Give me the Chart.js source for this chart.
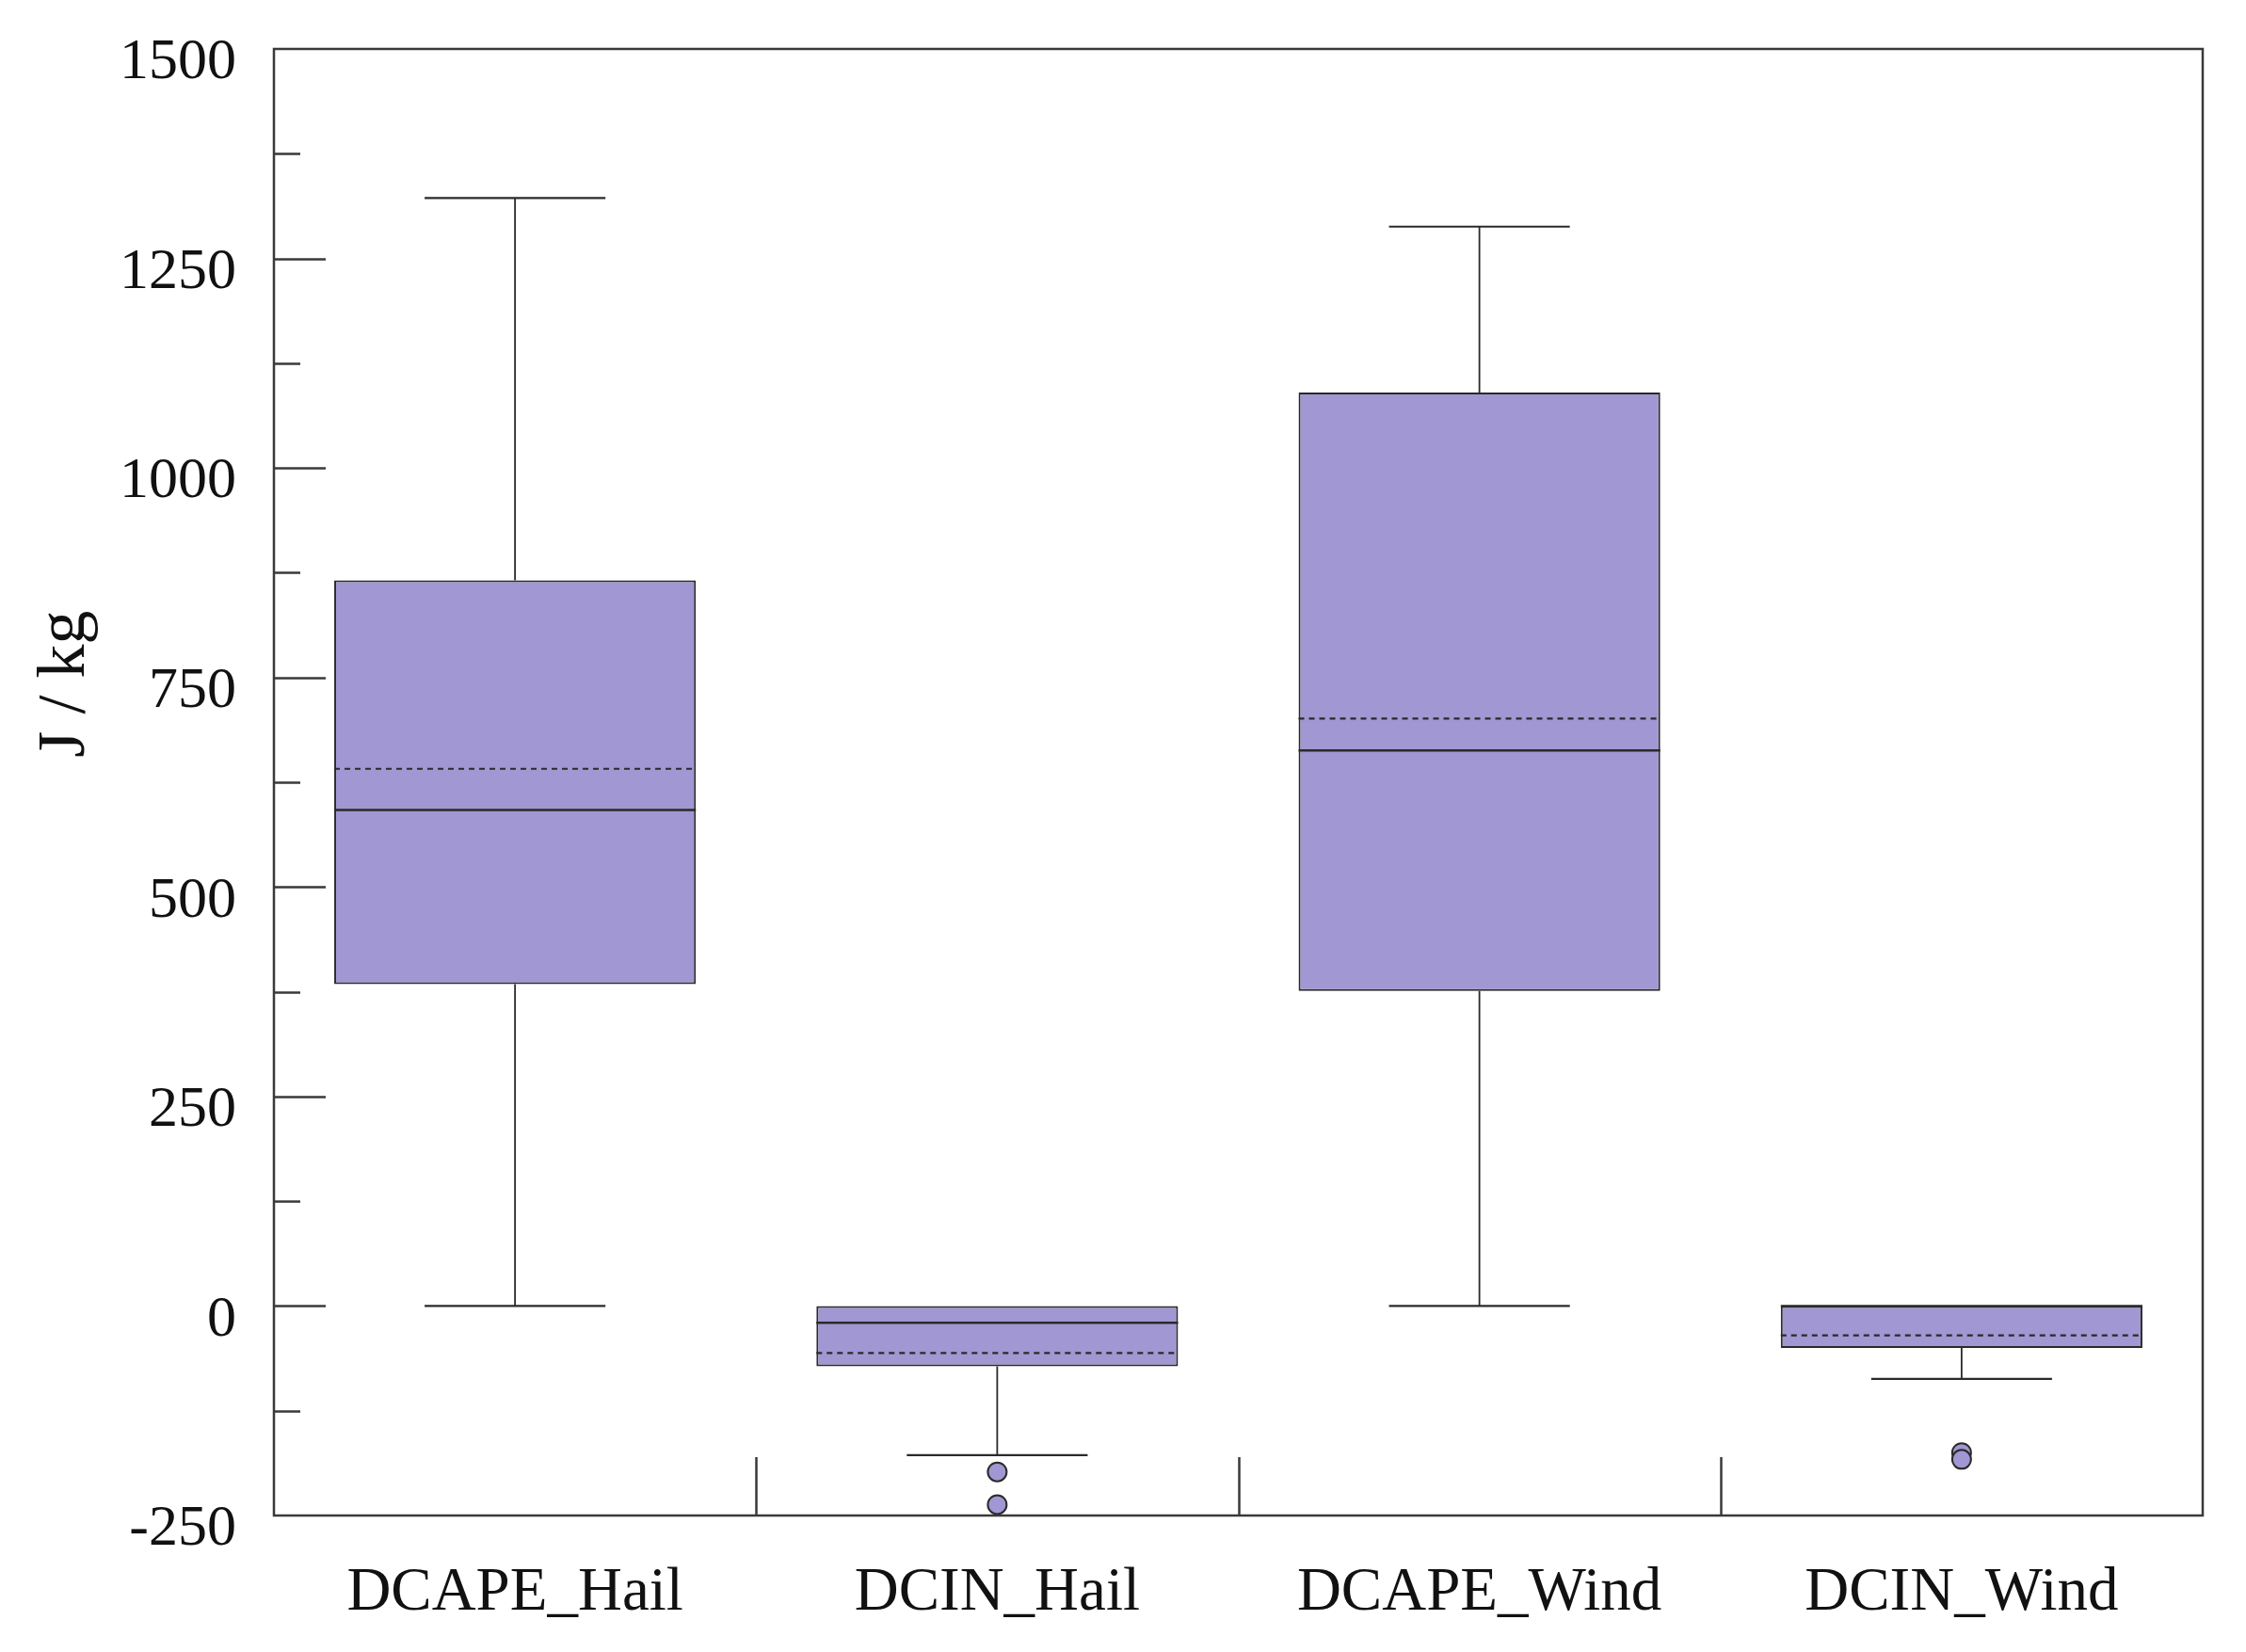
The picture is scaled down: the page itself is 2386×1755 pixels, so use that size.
<!DOCTYPE html>
<html>
<head>
<meta charset="utf-8">
<script src="https://cdn.jsdelivr.net/npm/chart.js@4.4.1/dist/chart.umd.min.js"></script>
<style>
  html, body { margin: 0; padding: 0; background: #ffffff; }
  canvas { display: block; }
</style>
</head>
<body>
<canvas id="chart" width="2386" height="1755"></canvas>
<script>
// ---- data (J/kg) ----
const categories  = ['DCAPE_Hail', 'DCIN_Hail', 'DCAPE_Wind', 'DCIN_Wind'];
const whiskerLow  = [0, -178, 0, -87];
const q1          = [384, -72, 376, -50];
const median      = [592, -20, 663, 0];
const mean        = [641, -56, 701, -35];
const q3          = [866, 0, 1090, 0];
const whiskerHigh = [1322, 0, 1288, 0];
const outliers    = [[], [-198, -237], [], [-175, -183]];
const yMin = -250, yMax = 1500, yMajorStep = 250, yMinorStep = 125;
const yTitle = 'J / kg';

// ---- style constants ----
const FILL = '#a097d3';
const LINE = '#2a2a2a';
const FONT = 'Liberation Serif';
const BOX_HALF = 0.375;
const CAP_HALF = 0.1875;

// ---- build library data from arrays ----
const boxData = categories.map((c, i) => ({ x: i, y: [q1[i], q3[i]] }));

function segments(getPts) {
  const out = [];
  categories.forEach((c, i) => {
    const pts = getPts(i);
    if (!pts) return;
    pts.forEach(p => out.push(p));
    out.push({ x: i, y: null });
  });
  return out;
}
const whiskerData = segments(i => {
  const pts = [];
  if (whiskerHigh[i] > q3[i]) pts.push({ x: i, y: q3[i] }, { x: i, y: whiskerHigh[i] }, { x: i, y: null });
  if (whiskerLow[i] < q1[i]) pts.push({ x: i, y: q1[i] }, { x: i, y: whiskerLow[i] });
  return pts;
});
const capData = segments(i => {
  const pts = [];
  if (whiskerHigh[i] > q3[i]) pts.push({ x: i - CAP_HALF, y: whiskerHigh[i] }, { x: i + CAP_HALF, y: whiskerHigh[i] }, { x: i, y: null });
  if (whiskerLow[i] < q1[i]) pts.push({ x: i - CAP_HALF, y: whiskerLow[i] }, { x: i + CAP_HALF, y: whiskerLow[i] });
  return pts;
});
const medianData = segments(i => [{ x: i - BOX_HALF, y: median[i] }, { x: i + BOX_HALF, y: median[i] }]);
const meanData = segments(i => [{ x: i - BOX_HALF, y: mean[i] }, { x: i + BOX_HALF, y: mean[i] }]);
const outlierData = [];
outliers.forEach((arr, i) => arr.forEach(v => outlierData.push({ x: i, y: v })));

const lineBase = { type: 'line', pointRadius: 0, fill: false, tension: 0, spanGaps: false, borderColor: LINE };

// ---- frame, inward ticks and axis title ----
const framePlugin = {
  id: 'frame',
  afterDatasetsDraw(chart) {
    const { ctx, chartArea: a, scales } = chart;
    const y = scales.y, x = scales.x;
    ctx.save();
    ctx.strokeStyle = '#3a3a3a';
    ctx.lineWidth = 2.5;
    ctx.strokeRect(a.left, a.top, a.right - a.left, a.bottom - a.top);
    ctx.beginPath();
    y.ticks.forEach(t => {
      if (t.value <= yMin || t.value >= yMax) return;
      const py = Math.round(y.getPixelForValue(t.value)) + 0.5;
      const len = (t.value % yMajorStep === 0) ? 55 : 28;
      ctx.moveTo(a.left, py);
      ctx.lineTo(a.left + len, py);
    });
    for (let k = 1; k < categories.length; k++) {
      const px = Math.round(x.getPixelForValue(k - 0.5)) + 0.5;
      ctx.moveTo(px, a.bottom);
      ctx.lineTo(px, a.bottom - 62);
    }
    ctx.stroke();
    // y axis title
    ctx.fillStyle = '#111';
    ctx.font = '72px "' + FONT + '"';
    ctx.textAlign = 'center';
    ctx.textBaseline = 'middle';
    ctx.translate(70, a.top + (a.bottom - a.top) * 0.433);
    ctx.rotate(-Math.PI / 2);
    ctx.fillText(yTitle, 0, 0);
    ctx.restore();
  }
};

new Chart(document.getElementById('chart'), {
  type: 'bar',
  data: {
    datasets: [
      { type: 'scatter', data: outlierData, pointRadius: 10, pointHoverRadius: 10,
        backgroundColor: FILL, borderColor: LINE, borderWidth: 2, order: 0 },
      { ...lineBase, data: medianData, borderWidth: 2.5, order: 1 },
      { ...lineBase, data: meanData, borderWidth: 2.2, borderDash: [6, 5], order: 1 },
      { ...lineBase, data: capData, borderWidth: 2.2, order: 2 },
      { ...lineBase, data: whiskerData, borderWidth: 1.8, order: 2 },
      { type: 'bar', data: boxData, backgroundColor: FILL, borderColor: LINE, borderWidth: 2,
        borderSkipped: false, barPercentage: BOX_HALF * 2, categoryPercentage: 1, order: 10 }
    ]
  },
  options: {
    responsive: false,
    devicePixelRatio: 1,
    animation: false,
    layout: { padding: { top: 52, right: 46, left: 0, bottom: 0 } },
    plugins: { legend: { display: false }, tooltip: { enabled: false } },
    scales: {
      x: {
        type: 'linear', offset: false, min: -0.5, max: categories.length - 0.5,
        grid: { display: false, drawTicks: false },
        border: { display: false },
        afterBuildTicks(scale) { scale.ticks = categories.map((c, i) => ({ value: i })); },
        afterFit(scale) { scale.height = 145; scale.paddingLeft = 0; scale.paddingRight = 0; },
        ticks: {
          autoSkip: false, maxRotation: 0, padding: 44, color: '#111',
          font: { family: FONT, size: 65 },
          callback: v => categories[v]
        }
      },
      y: {
        type: 'linear', min: yMin, max: yMax,
        grid: { display: false, drawTicks: false },
        border: { display: false },
        afterFit(scale) { scale.width = 291; scale.paddingTop = 0; scale.paddingBottom = 0; },
        ticks: {
          stepSize: yMinorStep, autoSkip: false, padding: 40, color: '#111', labelOffset: 15,
          font: { family: FONT, size: 62 },
          callback: v => (v % yMajorStep === 0 ? String(v) : '')
        }
      }
    }
  },
  plugins: [framePlugin]
});
</script>
</body>
</html>
